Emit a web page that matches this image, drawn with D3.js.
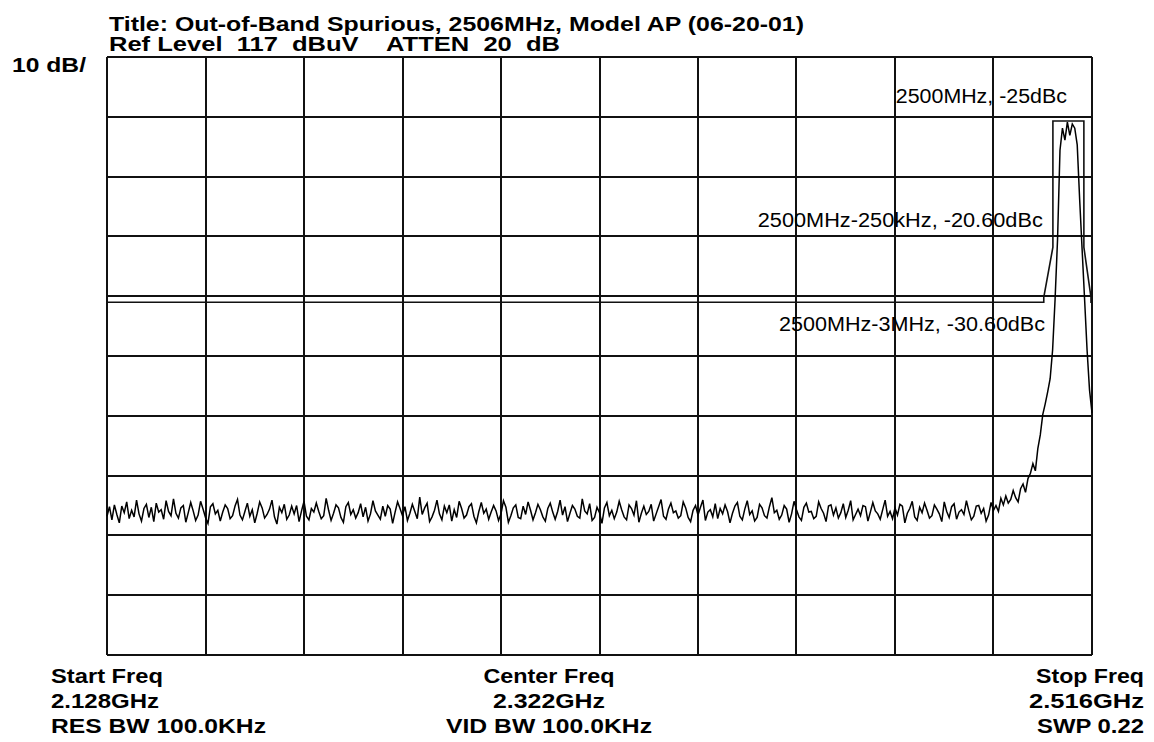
<!DOCTYPE html>
<html>
<head>
<meta charset="utf-8">
<script src="https://cdn.jsdelivr.net/npm/d3@7"></script>
<style>
  body { margin: 0; background: #fff; }
  svg text { white-space: pre; }
  .hdr { font-family: "Liberation Sans", Arial, sans-serif; font-weight: bold; font-size: 20px; fill: #000; }
  .note { font-family: "Liberation Sans", Arial, sans-serif; font-size: 20px; fill: #000; }
</style>
</head>
<body>
<script>
// instrument settings (MHz, dBuV)
var startMHz = 2128, stopMHz = 2516;
var refLevel = 117, dbPerDiv = 10, nDiv = 10;

// header text
var titleLines = ["Title: Out-of-Band Spurious, 2506MHz, Model AP (06-20-01)",
                  "Ref Level  117  dBuV    ATTEN  20  dB"];
var titleWidth = [695, 451];
var scaleLabel = "10 dB/";

// footer text, one column each: left, centre, right
var footLeft = ["Start Freq", "2.128GHz", "RES BW 100.0KHz"];
var footMid = ["Center Freq", "2.322GHz", "VID BW 100.0KHz"];
var footRight = ["Stop Freq", "2.516GHz", "SWP 0.22"];
var footLeftW = [112, 108, 215];
var footMidW = [131, 112, 206];
var footRightW = [108, 115, 107];

// marker notes: text, freq of right end (MHz), baseline level (dBuV)
var noteText = ["2500MHz, -25dBc", "2500MHz-250kHz, -20.60dBc", "2500MHz-3MHz, -30.60dBc"];
var noteEndMHz = [2506.1, 2496.6, 2497.5];
var noteLevel = [109.3, 88.6, 71.1];
var noteWidth = [171, 285, 266];

// limit mask (MHz, dBuV)
var maskMHz = [2128, 2497.0, 2497.0, 2500.6, 2500.6, 2512.8, 2512.8, 2515.6, 2515.6, 2516];
var maskDb  = [76.0, 76.0, 76.8, 85.2, 106.3, 106.3, 85.2, 76.8, 76.0, 76.0];

// sweep trace, 401 points, dBuV
var traceDb = [
40.2,41.8,39.6,42.1,40.5,39.1,41.9,40.8,42.6,39.8,41.2,40.1,42.9,40.6,39.4,41.5,42.2,40.0,41.7,39.3,
42.4,40.9,41.3,39.7,42.8,41.0,40.3,43.1,40.7,39.9,41.6,42.0,39.2,40.8,42.5,41.1,39.5,40.4,42.7,41.4,
40.0,39.0,41.8,42.3,40.6,41.2,39.4,40.9,42.1,41.5,39.8,40.3,41.9,43.0,40.4,39.6,41.0,42.4,40.2,41.3,
39.1,40.7,42.6,41.6,39.9,40.5,41.4,42.9,40.1,38.9,41.7,40.8,42.2,39.7,40.4,41.9,40.6,42.0,39.3,41.1,
42.7,40.2,39.6,41.5,40.9,42.4,41.0,39.8,40.3,43.2,41.2,39.5,40.7,42.1,41.6,40.0,39.2,41.8,42.5,40.5,
41.3,39.9,40.8,42.3,40.1,41.7,39.4,40.6,42.8,41.1,40.4,39.7,41.9,40.2,42.0,41.4,39.0,40.9,42.6,41.5,
40.3,41.8,39.5,40.7,42.2,41.0,39.8,43.4,40.5,41.6,42.4,39.3,40.1,41.2,42.9,40.6,39.6,41.9,40.8,42.1,
39.4,41.3,40.0,42.7,41.5,39.9,40.4,41.8,42.3,40.2,39.1,41.0,42.5,40.7,41.4,39.7,40.9,42.0,41.1,39.5,
40.6,42.8,41.7,39.2,40.3,41.6,42.1,40.0,39.8,41.9,40.5,42.6,41.2,39.6,40.8,42.2,41.3,40.1,39.4,41.5,
42.4,40.9,39.7,41.0,42.9,40.4,41.8,39.3,40.7,42.0,41.4,40.2,39.9,43.1,41.1,40.6,42.3,39.5,40.0,41.7,
40.8,39.0,41.6,42.5,40.3,41.2,39.8,40.9,42.7,41.3,40.1,39.6,42.1,41.5,40.4,42.8,39.2,40.7,41.9,40.5,
41.0,42.2,39.4,40.6,41.8,43.0,40.2,39.7,41.4,42.4,40.8,41.1,39.9,40.3,42.6,41.6,40.0,39.3,41.2,42.0,
40.4,41.7,42.9,39.5,40.9,41.3,40.1,42.3,39.8,41.5,40.6,42.1,41.0,39.1,40.7,41.9,42.5,40.2,39.6,41.4,
42.8,40.5,41.1,39.4,40.0,42.2,41.6,40.3,39.9,41.8,43.3,40.8,41.2,39.7,40.4,42.0,41.4,39.2,40.6,42.7,
41.3,40.1,39.5,41.7,42.4,40.9,41.0,39.8,40.2,42.6,41.5,40.7,39.3,41.9,42.1,40.4,41.6,39.9,40.8,42.3,
40.0,41.2,42.8,39.6,40.5,41.4,40.3,42.0,41.8,39.4,40.9,42.5,41.1,40.6,39.7,41.3,42.9,40.2,41.0,39.8,
41.6,40.4,42.2,41.9,39.1,40.7,41.5,42.7,40.1,39.5,41.7,40.8,42.4,41.2,39.9,40.3,42.1,41.4,40.6,39.3,
42.6,41.0,40.0,41.8,42.3,39.7,40.9,41.3,40.5,42.8,41.1,39.6,40.2,41.9,42.0,40.7,41.5,39.4,40.4,42.5,
41.2,42.0,41.0,43.2,42.1,43.6,42.4,43.0,44.5,43.3,42.6,44.8,45.6,44.2,46.5,47.4,49.0,47.8,51.5,53.8,
57.2,59.0,61.0,63.2,68.0,76.4,86.4,101.4,105.1,103.1,106.1,103.9,105.8,105.1,102.3,93.1,84.7,76.4,68.0,61.3,
57.5
];

var W = 1154, H = 742;
var plot = {left: 107, top: 57, right: 1092, bottom: 655};

var svg = d3.select("body").append("svg")
    .attr("width", W)
    .attr("height", H);

var x = d3.scaleLinear().domain([startMHz, stopMHz]).range([plot.left, plot.right]);
var y = d3.scaleLinear().domain([refLevel - nDiv * dbPerDiv, refLevel]).range([plot.bottom, plot.top]);

//graticule
var xTicks = d3.range(nDiv + 1).map(function(i){ return startMHz + i * (stopMHz - startMHz) / nDiv; });
var yTicks = d3.range(nDiv + 1).map(function(i){ return refLevel - i * dbPerDiv; });

var grid = svg.append("g").attr("stroke", "#111").attr("stroke-width", 2);
grid.selectAll(".vl").data(xTicks).enter().append("line")
    .attr("x1", function(d){ return Math.round(x(d)); })
    .attr("x2", function(d){ return Math.round(x(d)); })
    .attr("y1", plot.top).attr("y2", plot.bottom);
grid.selectAll(".hl").data(yTicks).enter().append("line")
    .attr("y1", function(d){ return Math.round(y(d)); })
    .attr("y2", function(d){ return Math.round(y(d)); })
    .attr("x1", plot.left).attr("x2", plot.right);

//limit mask
var maskPts = maskMHz.map(function(f, i){ return [f, maskDb[i]]; });
svg.append("path")
    .datum(maskPts)
    .attr("fill", "none")
    .attr("stroke", "#111")
    .attr("stroke-width", 1.6)
    .attr("d", d3.line().x(function(d){ return x(d[0]); }).y(function(d){ return y(d[1]); }));

//trace
var step = (stopMHz - startMHz) / (traceDb.length - 1);
svg.append("path")
    .datum(traceDb)
    .attr("fill", "none")
    .attr("stroke", "#000")
    .attr("stroke-width", 1.5)
    .attr("d", d3.line()
        .x(function(d, i){ return x(startMHz + i * step); })
        .y(function(d){ return y(d); }));

//marker notes
noteText.forEach(function(t, i){
    svg.append("text").attr("class", "note")
        .attr("x", x(noteEndMHz[i]) - noteWidth[i])
        .attr("y", y(noteLevel[i]))
        .attr("textLength", noteWidth[i])
        .attr("lengthAdjust", "spacingAndGlyphs")
        .text(t);
});

//bold text stretched to the width the screen font takes
function label(t, xp, yp, w){
    svg.append("text").attr("class", "hdr")
        .attr("x", xp).attr("y", yp)
        .attr("textLength", w)
        .attr("lengthAdjust", "spacingAndGlyphs")
        .text(t);
}

//header
titleLines.forEach(function(t, i){ label(t, 109, 31 + i * 20, titleWidth[i]); });
label(scaleLabel, 12, 72, 74);

//footer
footLeft.forEach(function(t, i){ label(t, 51, 683 + i * 25, footLeftW[i]); });
footMid.forEach(function(t, i){ label(t, 549 - footMidW[i] / 2, 683 + i * 25, footMidW[i]); });
footRight.forEach(function(t, i){ label(t, 1144 - footRightW[i], 683 + i * 25, footRightW[i]); });
</script>
</body>
</html>
